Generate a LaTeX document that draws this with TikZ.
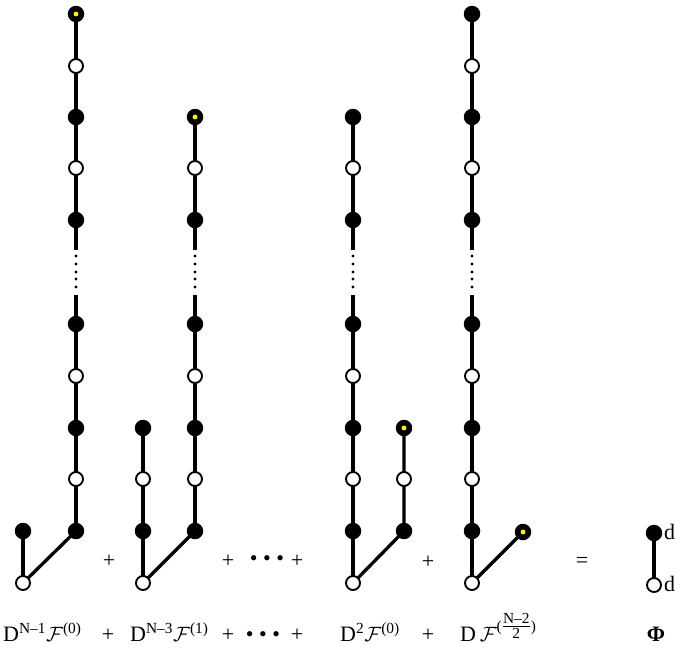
\documentclass[tikz,border=0pt]{standalone}
\usepackage{fontspec}
\usepackage{amsmath}
\setmainfont{Liberation Serif}
\usetikzlibrary{calc,backgrounds}
\tikzset{
  bnode/.style={circle, fill=black, minimum size=16.5pt, inner sep=0pt},
  wnode/.style={circle, draw=black, line width=1.9pt, fill=white, minimum size=14pt, inner sep=0pt},
  ynode/.style={bnode, path picture={\fill[yellow] (path picture bounding box.center) circle (2.4pt);}},
  edge/.style={line width=3.3pt},
  opsym/.style={font=\fontsize{22}{26}\selectfont, inner sep=0pt},
  lbl/.style={font=\fontsize{22}{26}\selectfont, inner sep=0pt, anchor=base west},
}
\newcommand\dotlink[2]{%
  \draw[edge] (#1.center) -- ($(#1.center)!0.28!(#2.center)$);
  \foreach \f in {0.356,0.433,0.5,0.577,0.654}
    \fill ($(#1.center)!\f!(#2.center)$) circle (1.6pt);
  \draw[edge] ($(#1.center)!0.712!(#2.center)$) -- (#2.center);
}
\newcommand\chain[2]{% prefix, count
  \foreach \j [evaluate=\j as \k using int(\j+1)] in {1,...,#2}
    \draw[edge] (#1\j.center) -- (#1\k.center);
}
\begin{document}
\begin{tikzpicture}[x=1pt,y=-1pt]
\useasboundingbox (0,0) rectangle (692,659);

% ---------- diagram 1 ----------
\node[wnode] (R1) at (23,583) {};
\node[bnode] (L1) at (23,531) {};
\foreach \y/\s [count=\i] in {531/bnode,479/wnode,428/bnode,376/wnode,324/bnode,220/bnode,168/wnode,117/bnode,66/wnode,14/ynode}
  \node[\s] (A\i) at (76,\y) {};

% ---------- diagram 2 ----------
\node[wnode] (R2) at (143,583) {};
\foreach \y/\s [count=\i] in {531/bnode,479/wnode,428/bnode}
  \node[\s] (B\i) at (143,\y) {};
\foreach \y/\s [count=\i] in {531/bnode,479/wnode,428/bnode,376/wnode,324/bnode,220/bnode,168/wnode,117/ynode}
  \node[\s] (C\i) at (195,\y) {};

% ---------- diagram 3 ----------
\node[wnode] (R3) at (353,583) {};
\foreach \y/\s [count=\i] in {531/bnode,479/wnode,428/bnode,376/wnode,324/bnode,220/bnode,168/wnode,117/bnode}
  \node[\s] (D\i) at (353,\y) {};
\foreach \y/\s [count=\i] in {531/bnode,479/wnode,428/ynode}
  \node[\s] (E\i) at (404,\y) {};

% ---------- diagram 4 ----------
\node[wnode] (R4) at (472,583) {};
\foreach \y/\s [count=\i] in {531/bnode,479/wnode,428/bnode,376/wnode,324/bnode,220/bnode,168/wnode,117/bnode,66/wnode,14/bnode}
  \node[\s] (G\i) at (472,\y) {};
\node[ynode] (H1) at (523,532) {};

% ---------- legend ----------
\node[bnode] (P1) at (654,533) {};
\node[wnode] (P2) at (654,585) {};
\node[opsym, anchor=base west] (d1) at (664,539) {d};
\node[opsym, anchor=base west] (d2) at (664,591) {d};

% ---------- edges ----------
\begin{pgfonlayer}{background}
  \draw[edge] (R1.center) -- (L1.center);
  \draw[edge] (R1.center) -- (A1.center);
  \chain{A}{4}
  \dotlink{A5}{A6}
  \draw[edge] (A6.center) -- (A7.center) -- (A8.center) -- (A9.center) -- (A10.center);

  \draw[edge] (R2.center) -- (B1.center) -- (B2.center) -- (B3.center);
  \draw[edge] (R2.center) -- (C1.center);
  \chain{C}{4}
  \dotlink{C5}{C6}
  \draw[edge] (C6.center) -- (C7.center) -- (C8.center);

  \draw[edge] (R3.center) -- (D1.center);
  \chain{D}{4}
  \dotlink{D5}{D6}
  \draw[edge] (D6.center) -- (D7.center) -- (D8.center);
  \draw[edge] (R3.center) -- (E1.center) -- (E2.center) -- (E3.center);

  \draw[edge] (R4.center) -- (G1.center);
  \chain{G}{4}
  \dotlink{G5}{G6}
  \draw[edge] (G6.center) -- (G7.center) -- (G8.center) -- (G9.center) -- (G10.center);
  \draw[edge] (R4.center) -- (H1.center);

  \draw[edge] (P1.center) -- (P2.center);
\end{pgfonlayer}

% ---------- operators between diagrams ----------
\node[opsym] (p1) at (109,561) {+};
\node[opsym] (p2) at (228,561) {+};
\node[opsym] (p3) at (267,561) {\textbullet\hspace{5.5pt}\textbullet\hspace{5.5pt}\textbullet};
\node[opsym] (p4) at (297,561) {+};
\node[opsym] (p5) at (428,562) {+};
\node[opsym] (eq) at (582,562) {=};

% ---------- bottom labels ----------
\node[lbl] (t1) at (3,641) {D$^{\text{N–1}}\mathcal{F}^{\text{(0)}}$};
\node[opsym, anchor=base] (q1) at (108,641) {+};
\node[lbl] (t2) at (130,641) {D$^{\text{N–3}}\mathcal{F}^{\text{(1)}}$};
\node[opsym, anchor=base] (q2) at (228,641) {+};
\node[opsym, anchor=base] (q3) at (263,641) {\textbullet\hspace{5.5pt}\textbullet\hspace{5.5pt}\textbullet};
\node[opsym, anchor=base] (q4) at (297,641) {+};
\node[lbl] (t3) at (340,641) {D$^{\text{2}}\mathcal{F}^{\text{(0)}}$};
\node[opsym, anchor=base] (q5) at (428,641) {+};
\node[lbl] (t4) at (460,641) {D\,$\mathcal{F}^{\text{(}\genfrac{}{}{0.6pt}{1}{\text{N–2}}{\text{2}}\text{)}}$};
\node[opsym, anchor=base] (phi) at (656,641) {\textbf{Φ}};
\end{tikzpicture}
\end{document}
